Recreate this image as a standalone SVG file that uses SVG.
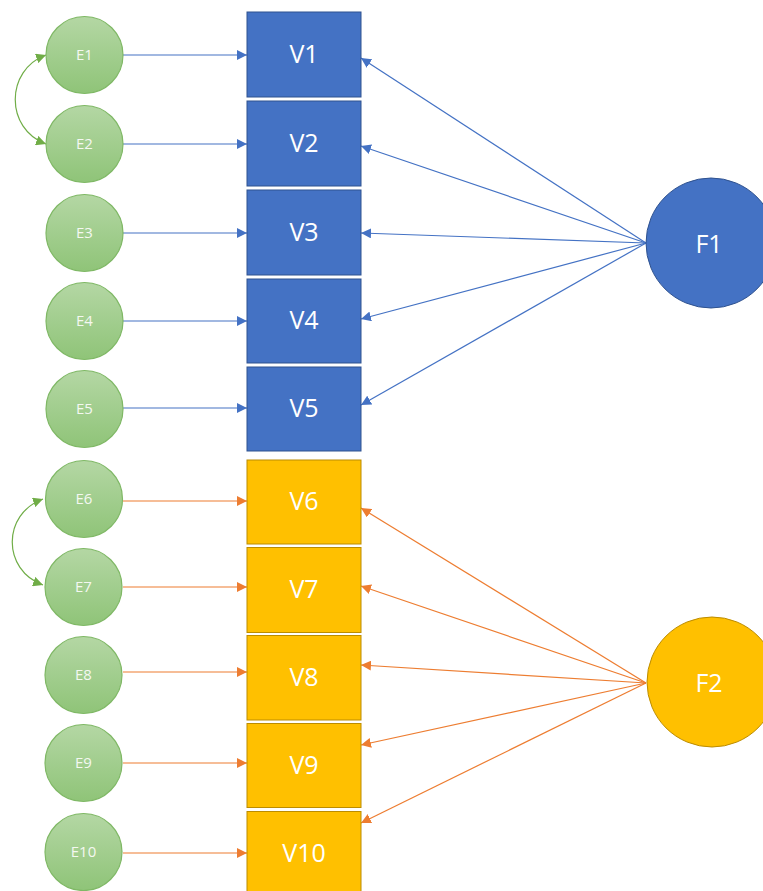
<svg xmlns="http://www.w3.org/2000/svg" width="763" height="891" viewBox="0 0 763 891">
<defs>
<linearGradient id="eg" x1="0" y1="0" x2="0" y2="1">
<stop offset="0" stop-color="#b4d7a4"/>
<stop offset="1" stop-color="#8fc478"/>
</linearGradient>
<marker id="ab" markerUnits="userSpaceOnUse" viewBox="0 0 10 10" refX="10" refY="5" markerWidth="10" markerHeight="10" orient="auto-start-reverse"><path d="M0,0 L10,5 L0,10 z" fill="#4472c4"/></marker>
<marker id="ao" markerUnits="userSpaceOnUse" viewBox="0 0 10 10" refX="10" refY="5" markerWidth="10" markerHeight="10" orient="auto-start-reverse"><path d="M0,0 L10,5 L0,10 z" fill="#ed7d31"/></marker>
<marker id="ag" markerUnits="userSpaceOnUse" viewBox="0 0 10 10" refX="10" refY="5" markerWidth="10" markerHeight="10" orient="auto-start-reverse"><path d="M0,0 L10,5 L0,10 z" fill="#70ad47"/></marker>
</defs>
<style>
.e{fill:url(#eg);stroke:#7fb865;stroke-width:1.2}
.et{font-family:"Open Sans","Liberation Sans",sans-serif;font-size:15px;fill:#f4f8f1;text-anchor:middle}
.vb{fill:#4472c4;stroke:#2f528f;stroke-width:1}
.vo{fill:#ffc000;stroke:#bc8c00;stroke-width:1}
.vt{font-family:"Open Sans","Liberation Sans",sans-serif;font-size:25px;fill:#ffffff;text-anchor:middle}
.lb{stroke:#4472c4;stroke-width:1.2;fill:none;marker-end:url(#ab)}
.lo{stroke:#ed7d31;stroke-width:1.2;fill:none;marker-end:url(#ao)}
.lg{stroke:#70ad47;stroke-width:1.2;fill:none;marker-start:url(#ag);marker-end:url(#ag)}
</style>
<g id="connectors">
<line class="lb" x1="123" y1="55" x2="247" y2="55"/>
<line class="lb" x1="123" y1="144" x2="247" y2="144"/>
<line class="lb" x1="123" y1="233" x2="247" y2="233"/>
<line class="lb" x1="123" y1="321" x2="247" y2="321"/>
<line class="lb" x1="123" y1="408" x2="247" y2="408"/>
<line class="lo" x1="123" y1="501" x2="247" y2="501"/>
<line class="lo" x1="123" y1="587" x2="247" y2="587"/>
<line class="lo" x1="123" y1="672" x2="247" y2="672"/>
<line class="lo" x1="123" y1="763" x2="247" y2="763"/>
<line class="lo" x1="123" y1="853" x2="247" y2="853"/>
<line class="lb" x1="646" y1="243" x2="361" y2="58"/>
<line class="lb" x1="646" y1="243" x2="361" y2="146"/>
<line class="lb" x1="646" y1="243" x2="361" y2="233"/>
<line class="lb" x1="646" y1="243" x2="361" y2="319"/>
<line class="lb" x1="646" y1="243" x2="361" y2="405"/>
<line class="lo" x1="646" y1="683" x2="361" y2="508"/>
<line class="lo" x1="646" y1="683" x2="361" y2="586"/>
<line class="lo" x1="646" y1="683" x2="361" y2="665"/>
<line class="lo" x1="646" y1="683" x2="361" y2="745"/>
<line class="lo" x1="646" y1="683" x2="361" y2="823"/>
<path class="lg" d="M46,55 C5,70 5,129 46,144"/>
<path class="lg" d="M43,499 C2,514 2,570 43,585"/>
</g>
<g id="E1"><circle class="e" cx="84.5" cy="55" r="38.5"/><text class="et" x="84.5" y="60">E1</text></g>
<g id="E2"><circle class="e" cx="84.5" cy="144" r="38.5"/><text class="et" x="84.5" y="149">E2</text></g>
<g id="E3"><circle class="e" cx="84.5" cy="233" r="38.5"/><text class="et" x="84.5" y="238">E3</text></g>
<g id="E4"><circle class="e" cx="84.5" cy="321" r="38.5"/><text class="et" x="84.5" y="326">E4</text></g>
<g id="E5"><circle class="e" cx="84.5" cy="409" r="38.5"/><text class="et" x="84.5" y="414">E5</text></g>
<g id="E6"><circle class="e" cx="84" cy="499" r="38.5"/><text class="et" x="84" y="504">E6</text></g>
<g id="E7"><circle class="e" cx="83.5" cy="587" r="38.5"/><text class="et" x="83.5" y="592">E7</text></g>
<g id="E8"><circle class="e" cx="83.5" cy="675" r="38.5"/><text class="et" x="83.5" y="680">E8</text></g>
<g id="E9"><circle class="e" cx="83.5" cy="763" r="38.5"/><text class="et" x="83.5" y="768">E9</text></g>
<g id="E10"><circle class="e" cx="83.5" cy="852" r="38.5"/><text class="et" x="83.5" y="857">E10</text></g>
<g id="V1"><rect class="vb" x="247" y="12" width="114" height="85"/><text class="vt" x="304" y="63">V1</text></g>
<g id="V2"><rect class="vb" x="247" y="101" width="114" height="85"/><text class="vt" x="304" y="152">V2</text></g>
<g id="V3"><rect class="vb" x="247" y="190" width="114" height="85"/><text class="vt" x="304" y="241">V3</text></g>
<g id="V4"><rect class="vb" x="247" y="279" width="114" height="84"/><text class="vt" x="304" y="329">V4</text></g>
<g id="V5"><rect class="vb" x="247" y="367" width="114" height="84"/><text class="vt" x="304" y="417">V5</text></g>
<g id="V6"><rect class="vo" x="247" y="460" width="114" height="84"/><text class="vt" x="304" y="510">V6</text></g>
<g id="V7"><rect class="vo" x="247" y="547.5" width="114" height="85"/><text class="vt" x="304" y="598">V7</text></g>
<g id="V8"><rect class="vo" x="247" y="635.5" width="114" height="84.5"/><text class="vt" x="304" y="686">V8</text></g>
<g id="V9"><rect class="vo" x="247" y="723.5" width="114" height="84"/><text class="vt" x="304" y="774">V9</text></g>
<g id="V10"><rect class="vo" x="247" y="811.5" width="114" height="84"/><text class="vt" x="304" y="862">V10</text></g>
<g id="F1"><circle cx="711" cy="243" r="65" fill="#4472c4" stroke="#2f528f" stroke-width="1"/><text class="vt" x="709" y="253">F1</text></g>
<g id="F2"><circle cx="712" cy="682" r="65" fill="#ffc000" stroke="#bc8c00" stroke-width="1"/><text class="vt" x="709" y="692">F2</text></g>
</svg>
